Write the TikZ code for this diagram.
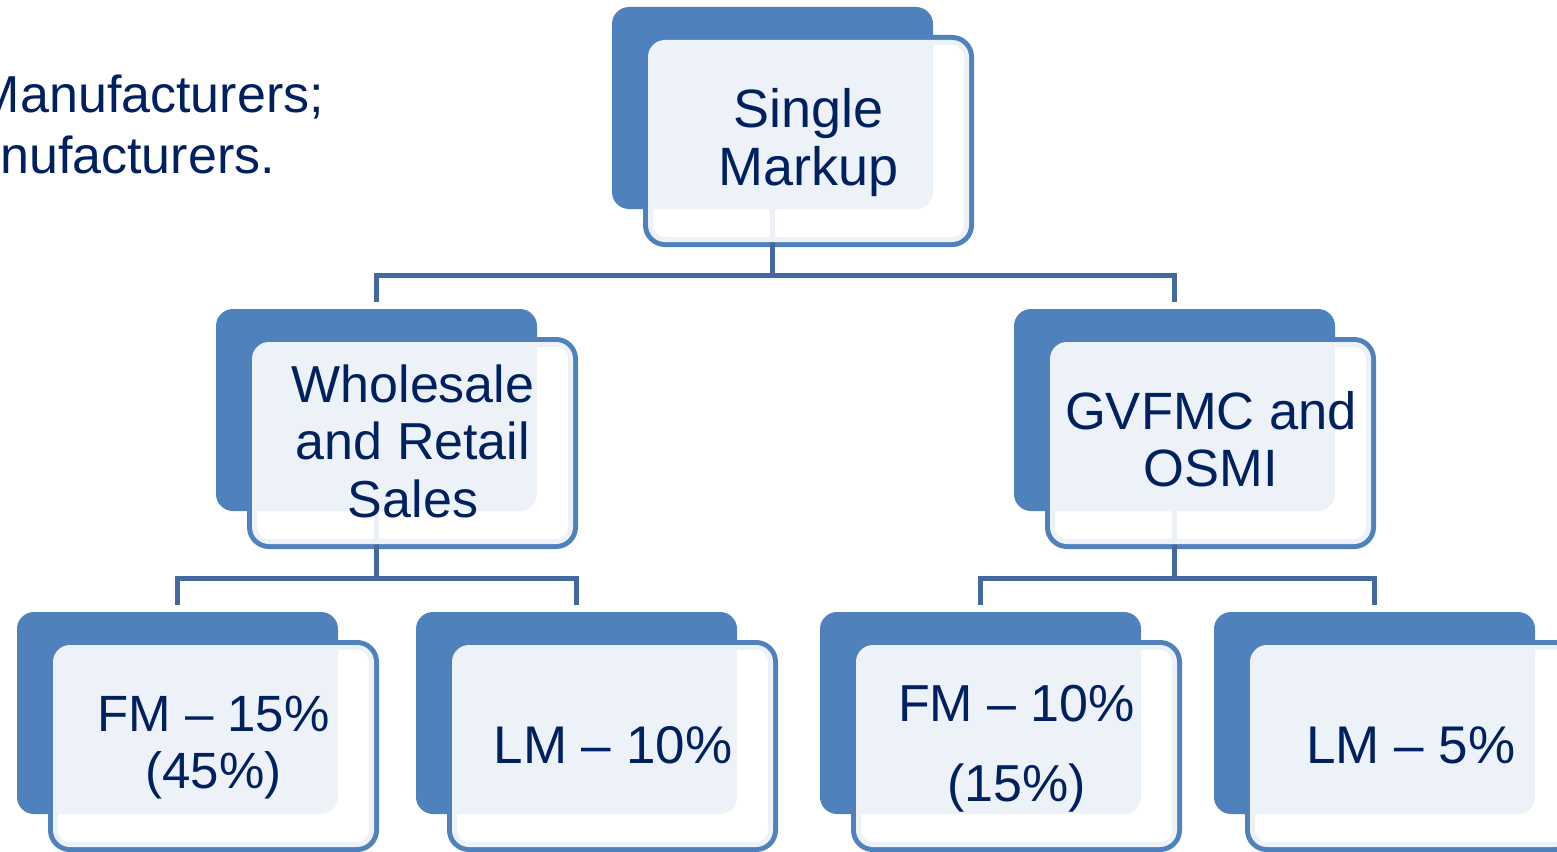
\documentclass[tikz,border=0pt]{standalone}
\usepackage{fontspec}
\setmainfont{Liberation Sans}
\usetikzlibrary{calc}
\definecolor{accblue}{RGB}{79,129,189}
\definecolor{connblue}{RGB}{66,106,158}
\definecolor{navytext}{RGB}{0,32,96}
\tikzset{
  boxshape/.style={rectangle,minimum width=321pt,minimum height=202pt,inner sep=0pt,outer sep=0pt},
  backfill/.style={fill=accblue,rounded corners=17pt},
  frontline/.style={draw=accblue,line width=10pt,rounded corners=17pt},
  frontfill/.style={fill=white,fill opacity=0.9,rounded corners=17pt},
  conn/.style={draw=connblue,line width=5pt},
  lbl/.style={inner sep=0pt,text=navytext,align=center},
}
\newcommand\frontpath[1]{($(#1.north west)+(36,33)$) rectangle ($(#1.south east)+(36,33)$)}
\begin{document}
\begin{tikzpicture}[x=1pt,y=-1pt]
\clip (0,0) rectangle (1557,851);
\fill[white] (0,0) rectangle (1557,851);
% box positions (blue back rectangles)
\node[boxshape] (top) at (772.5,108) {};
\node[boxshape] (ml) at (376.5,410) {};
\node[boxshape] (mr) at (1174.5,410) {};
\node[boxshape] (b1) at (177.5,713) {};
\node[boxshape] (b2) at (576.5,713) {};
\node[boxshape] (b3) at (980.5,713) {};
\node[boxshape] (b4) at (1374.5,713) {};
% front outlines
\foreach \n in {top,ml,mr,b1,b2,b3,b4}{
  \draw[frontline] \frontpath{\n};
}
% blue back rectangles
\foreach \n in {top,ml,mr,b1,b2,b3,b4}{
  \fill[backfill] (\n.north west) rectangle (\n.south east);
}
% connectors
\coordinate (j0) at (772.5,275.5);
\coordinate (j1) at (376.5,578);
\coordinate (j2) at (1174.5,578);
\draw[conn] (top.south) -- (j0);
\draw[conn] ($(ml.north)+(0,-7)$) |- (j0) -| ($(mr.north)+(0,-7)$);
\draw[conn] (ml.south) -- (j1);
\draw[conn] ($(b1.north)+(0,-7)$) |- (j1) -| ($(b2.north)+(0,-7)$);
\draw[conn] (mr.south) -- (j2);
\draw[conn] ($(b3.north)+(0,-7)$) |- (j2) -| ($(b4.north)+(0,-7)$);
% front translucent fills
\foreach \n in {top,ml,mr,b1,b2,b3,b4}{
  \fill[frontfill] \frontpath{\n};
}
% labels
\node[lbl,font=\fontsize{54}{58}\selectfont] (ttop) at (808.5,143) {Single\\Markup};
\node[lbl,font=\fontsize{52}{57.5}\selectfont] (tml) at (413,441) {Wholesale\\and Retail\\Sales};
\node[lbl,font=\fontsize{52.5}{57}\selectfont] (tmr) at (1211,439.5) {GVFMC and\\OSMI};
\node[lbl,font=\fontsize{51}{57}\selectfont] (tb1) at (213.5,748) {FM – 15\%\\(45\%)};
\node[lbl,font=\fontsize{53}{60}\selectfont,anchor=base] (tb2) at (613,763) {LM – 10\%};
\node[lbl,font=\fontsize{52}{80}\selectfont] (tb3) at (1016.5,748.5) {FM – 10\%\\(15\%)};
\node[lbl,font=\fontsize{53}{60}\selectfont,anchor=base] (tb4) at (1411,763) {LM – 5\%};
% cut-off side text
\node[lbl,font=\fontsize{52}{60}\selectfont,anchor=base east] (s1) at (324,112) {Manufacturers;};
\node[lbl,font=\fontsize{52}{60}\selectfont,anchor=base east] (s2) at (275,173) {nufacturers.};
\end{tikzpicture}
\end{document}
